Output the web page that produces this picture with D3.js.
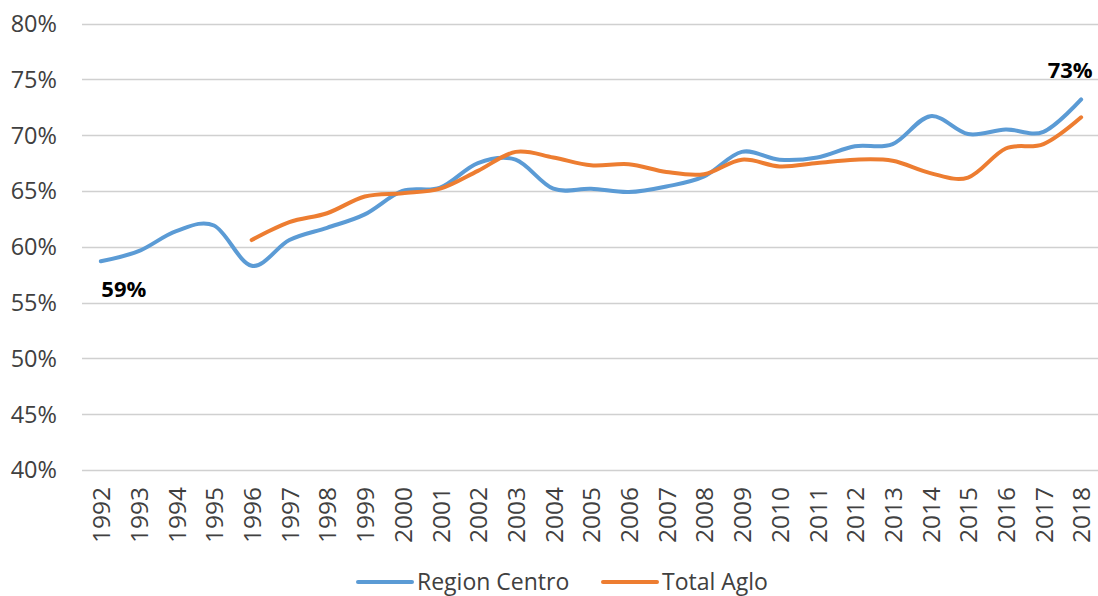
<!DOCTYPE html>
<html>
<head>
<meta charset="utf-8">
<script src="https://cdn.jsdelivr.net/npm/d3@7"></script>
<style>
  body { margin: 0; background: #fff; }
  svg text { font-family: "Open Sans", "Noto Sans", sans-serif; fill: #404040; }
</style>
</head>
<body>
<div id="chart"></div>
<script>
const years = ["1992","1993","1994","1995","1996","1997","1998","1999","2000","2001","2002","2003","2004","2005","2006","2007","2008","2009","2010","2011","2012","2013","2014","2015","2016","2017","2018"];
const regionCentro = [0.587,0.596,0.614,0.619,0.583,0.606,0.617,0.629,0.650,0.653,0.675,0.678,0.652,0.652,0.649,0.654,0.663,0.685,0.678,0.680,0.690,0.692,0.717,0.701,0.705,0.703,0.732];
const totalAglo = [null,null,null,null,0.606,0.622,0.630,0.645,0.648,0.652,0.668,0.685,0.680,0.673,0.674,0.667,0.665,0.678,0.672,0.675,0.678,0.677,0.666,0.662,0.688,0.692,0.716];
const yTicks = [0.40,0.45,0.50,0.55,0.60,0.65,0.70,0.75,0.80];
const seriesNames = ["Region Centro", "Total Aglo"];
const seriesColors = ["#5B9BD5", "#ED7D31"];

const WIDTH = 1098;
const HEIGHT = 596;
const LEFT = 82;
const RIGHT = 1100;
const TOP = 23.5;
const BOTTOM = 470;

const svg = d3.select("#chart")
    .append("svg")
    .attr("width", WIDTH)
    .attr("height", HEIGHT);

let xScale = d3.scaleBand()
    .domain(years)
    .range([LEFT, RIGHT])
    .padding(0);

let yScale = d3.scaleLinear()
    .domain([0.40, 0.80])
    .range([BOTTOM, TOP]);

const xc = (year) => xScale(year) + xScale.bandwidth() / 2;

// gridlines
svg.append("g")
    .selectAll("line")
    .data(yTicks)
    .enter()
    .append("line")
    .attr("x1", LEFT)
    .attr("x2", WIDTH)
    .attr("y1", d => Math.round(yScale(d)) + 0.5)
    .attr("y2", d => Math.round(yScale(d)) + 0.5)
    .attr("stroke", "#d0d0d0")
    .attr("stroke-width", 1.5);

// y labels
svg.append("g")
    .selectAll("text")
    .data(yTicks)
    .enter()
    .append("text")
    .attr("x", 57)
    .attr("y", d => yScale(d))
    .attr("dy", "0.36em")
    .attr("text-anchor", "end")
    .style("font-size", "23.5px")
    .text(d3.format(".0%"));

// x labels (rotated)
svg.append("g")
    .selectAll("text")
    .data(years)
    .enter()
    .append("text")
    .attr("transform", d => "translate(" + (xc(d) + 0.5) + ",487)rotate(-90)")
    .attr("dy", "0.36em")
    .attr("text-anchor", "end")
    .style("font-size", "24.5px")
    .text(d => d);

// lines
const allSeries = [regionCentro, totalAglo];
const line = d3.line()
    .x(d => xc(d.year))
    .y(d => yScale(d.v))
    .curve(d3.curveCatmullRom.alpha(0));

allSeries.forEach((values, i) => {
    let pts = years.map((y, j) => ({ year: y, v: values[j] })).filter(d => d.v !== null);
    svg.append("path")
        .datum(pts)
        .attr("d", line)
        .attr("fill", "none")
        .attr("stroke", seriesColors[i])
        .attr("stroke-width", 4)
        .attr("stroke-linecap", "round")
        .attr("stroke-linejoin", "round");
});

// data labels
svg.append("text")
    .attr("x", xc("1992") + 23)
    .attr("y", yScale(regionCentro[0]) + 36)
    .attr("text-anchor", "middle")
    .style("font-size", "22px")
    .style("font-weight", "bold")
    .style("fill", "#000")
    .text(d3.format(".0%")(regionCentro[0]));

svg.append("text")
    .attr("x", xc("2018") - 11)
    .attr("y", yScale(regionCentro[26]) - 21)
    .attr("text-anchor", "middle")
    .style("font-size", "22px")
    .style("font-weight", "bold")
    .style("fill", "#000")
    .text(d3.format(".0%")(regionCentro[26]));

// legend
const legendX = [358, 603];
const legend = svg.append("g");
seriesNames.forEach((name, i) => {
    legend.append("line")
        .attr("x1", legendX[i])
        .attr("x2", legendX[i] + 54)
        .attr("y1", 582)
        .attr("y2", 582)
        .attr("stroke", seriesColors[i])
        .attr("stroke-width", 4)
        .attr("stroke-linecap", "round");
    legend.append("text")
        .attr("x", legendX[i] + 59)
        .attr("y", 582)
        .attr("dy", "0.36em")
        .style("font-size", "23px")
        .text(name);
});
</script>
</body>
</html>
